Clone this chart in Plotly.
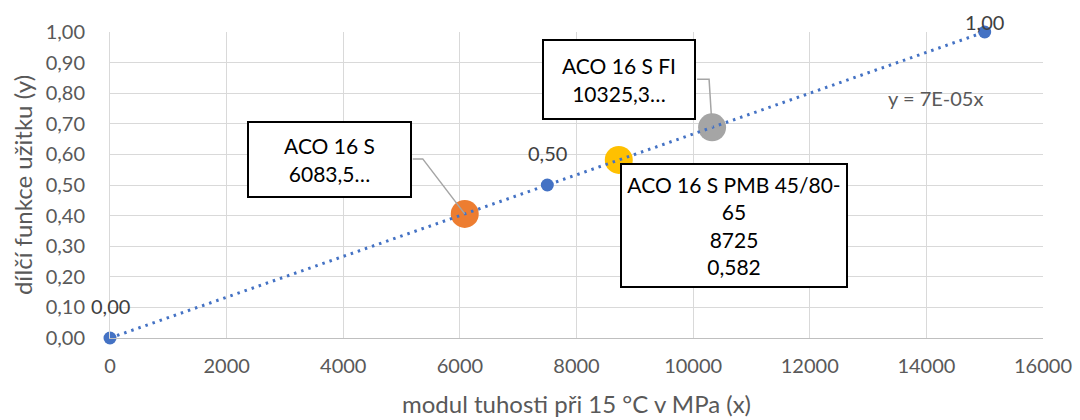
import plotly.graph_objects as go

# Reference points that define the utility function (x = stiffness modulus, y = utility)
ref_x = [0, 7500, 15000]
ref_y = [0.0, 0.5, 1.0]

# Evaluated mixtures
mix_names = ["ACO 16 S", "ACO 16 S PMB 45/80-65", "ACO 16 S FI"]
mix_x = [6083.5, 8725, 10325.3]
mix_y = [0.4056, 0.582, 0.6884]
mix_colors = ["#ED7D31", "#FFC000", "#A5A5A5"]

x_ticks = [0, 2000, 4000, 6000, 8000, 10000, 12000, 14000, 16000]
y_ticks = [0.0, 0.1, 0.2, 0.3, 0.4, 0.5, 0.6, 0.7, 0.8, 0.9, 1.0]

FONT = "Lato"
BLUE = "#4472C4"
LEADER = "#A5A5A5"


def comma(v, nd):
    return f"{v:.{nd}f}".replace(".", ",")


# Linear trend through the origin fitted to the reference points
slope = sum(a * b for a, b in zip(ref_x, ref_y)) / sum(a * a for a in ref_x)
trend_x = [min(ref_x), max(ref_x)]
trend_y = [slope * v for v in trend_x]

fig = go.Figure()

# Mixture markers (large circles)
fig.add_trace(go.Scatter(
    x=mix_x, y=mix_y, mode="markers",
    marker=dict(size=28, color=mix_colors, line=dict(width=0)),
    cliponaxis=False, hoverinfo="skip",
))

# Dotted trendline
fig.add_trace(go.Scatter(
    x=trend_x, y=trend_y, mode="lines",
    line=dict(color=BLUE, width=3, dash="2.5px,5px"),
    hoverinfo="skip",
))

# Reference points
fig.add_trace(go.Scatter(
    x=ref_x, y=ref_y, mode="markers",
    marker=dict(size=13, color=BLUE),
    cliponaxis=False, hoverinfo="skip",
))

annotations = []
shapes = []

# Value labels above the reference points
label_shift = [32, 32, 10]
for xv, yv, sh in zip(ref_x, ref_y, label_shift):
    annotations.append(dict(
        x=xv, y=yv, xref="x", yref="y", text=comma(yv, 2), showarrow=False,
        yshift=sh, font=dict(family=FONT, size=20, color="#404040"),
    ))

# Trendline equation
annotations.append(dict(
    x=14150, y=0.785, xref="x", yref="y",
    text=f"y = {slope:.0E}x",
    showarrow=False, font=dict(family=FONT, size=20, color="#595959"),
))

# Callout boxes for the mixtures (offsets in pixels from each marker)
callouts = [
    dict(text=f"{mix_names[0]}<br>{comma(mix_x[0], 1)}…", dx=-135.5, dy=54.5,
         w=161, h=73, leader="M0,0L-42,55L-52,55"),
    dict(text="ACO 16 S PMB 45/80-<br>65<br>" + f"{mix_x[1]:.0f}<br>{comma(mix_y[1], 3)}",
         dx=115, dy=-65.5, w=224, h=121, leader=None),
    dict(text=f"{mix_names[2]}<br>{comma(mix_x[2], 1)}…", dx=-93, dy=47.5,
         w=150, h=77, leader="M0,0L-3,48L-15,48"),
]
for c, xv, yv in zip(callouts, mix_x, mix_y):
    if c["leader"]:
        shapes.append(dict(
            type="path", xref="x", yref="y", xsizemode="pixel", ysizemode="pixel",
            xanchor=xv, yanchor=yv, path=c["leader"],
            line=dict(color=LEADER, width=1.5), layer="above",
        ))
    annotations.append(dict(
        x=xv, y=yv, xref="x", yref="y", text=c["text"], showarrow=False,
        xshift=c["dx"], yshift=c["dy"], width=c["w"], height=c["h"],
        bgcolor="white", bordercolor="black", borderwidth=2, borderpad=0,
        font=dict(family=FONT, size=21, color="black"), align="center",
    ))

fig.update_layout(
    width=1080, height=420,
    margin=dict(l=110, r=37, t=32, b=82),
    paper_bgcolor="white", plot_bgcolor="white",
    showlegend=False,
    font=dict(family=FONT, color="#595959"),
    annotations=annotations,
    shapes=shapes,
)

fig.update_xaxes(
    range=[0, 16000], tickvals=x_ticks, ticktext=[str(v) for v in x_ticks],
    showgrid=True, gridcolor="#D9D9D9", gridwidth=1,
    zeroline=False, showline=True, linecolor="#BFBFBF", linewidth=1,
    tickfont=dict(family=FONT, size=20, color="#595959"),
    ticks="", ticklabelstandoff=10,
    title=dict(text="modul tuhosti při 15 °C v MPa (x)",
               font=dict(family=FONT, size=24, color="#595959"), standoff=20),
    automargin=False,
)
fig.update_yaxes(
    range=[0, 1.0], tickvals=y_ticks, ticktext=[comma(v, 2) for v in y_ticks],
    showgrid=True, gridcolor="#D9D9D9", gridwidth=1,
    zeroline=False, showline=True, linecolor="#D9D9D9", linewidth=1,
    tickfont=dict(family=FONT, size=20, color="#595959"),
    ticks="", ticklabelstandoff=20,
    title=dict(text="dílčí funkce užitku (y)",
               font=dict(family=FONT, size=24, color="#595959"), standoff=6),
    automargin=False,
)

fig.write_html("out.html")
